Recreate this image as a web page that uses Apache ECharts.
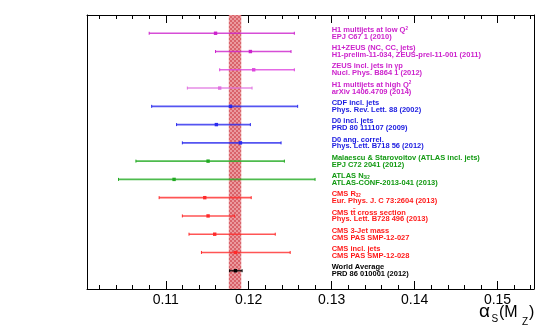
<!DOCTYPE html>
<html>
<head>
<meta charset="utf-8">
<script src="https://cdn.jsdelivr.net/npm/echarts@6/dist/echarts.min.js"></script>
<style>
  html, body { margin: 0; padding: 0; background: #fff; }
  #chart { width: 545px; height: 333px; }
</style>
</head>
<body>
<div id="chart"></div>
<script>
// measurements, top to bottom ({sub|..} / {sup|..} are rich text pieces)
const titleLines = [
  "H1 multijets at low Q{sup|2}",
  "H1+ZEUS (NC, CC, jets)",
  "ZEUS incl. jets in {g|γ}p",
  "H1 multijets at high Q{sup|2}",
  "CDF incl. jets",
  "D0 incl. jets",
  "D0 ang. correl.",
  "Malaescu & Starovoitov (ATLAS incl. jets)",
  "ATLAS N{sub|3/2}",
  "CMS R{sub|32}",
  "CMS tt̄ cross section",
  "CMS 3-Jet mass",
  "CMS incl. jets",
  "World Average"
];
const refLines = [
  "EPJ C67 1 (2010)",
  "H1-prelim-11-034, ZEUS-prel-11-001 (2011)",
  "Nucl. Phys. B864 1 (2012)",
  "arXiv 1406.4709 (2014)",
  "Phys. Rev. Lett. 88 (2002)",
  "PRD 80 111107 (2009)",
  "Phys. Lett. B718 56 (2012)",
  "EPJ C72 2041 (2012)",
  "ATLAS-CONF-2013-041 (2013)",
  "Eur. Phys. J. C 73:2604 (2013)",
  "Phys. Lett. B728 496 (2013)",
  "CMS PAS SMP-12-027",
  "CMS PAS SMP-12-028",
  "PRD 86 010001 (2012)"
];
const centralValues = [0.1160, 0.1202, 0.1206, 0.1165, 0.1178, 0.1161, 0.1190, 0.1151, 0.1110, 0.1147, 0.1151, 0.1159, 0.1184, 0.1184];
const lowerValues   = [0.1080, 0.1160, 0.1165, 0.1126, 0.1083, 0.1113, 0.1120, 0.1064, 0.1043, 0.1092, 0.1120, 0.1128, 0.1143, 0.1177];
const upperValues   = [0.1255, 0.1251, 0.1255, 0.1204, 0.1259, 0.1202, 0.1239, 0.1243, 0.1280, 0.1203, 0.1183, 0.1232, 0.1250, 0.1192];
const rowGroups = ["ep", "ep", "ep2", "ep3", "tev", "tev", "tev", "atlas", "atlas", "cms", "cms", "cms", "cms", "avg"];

const worldBand = [0.1176, 0.1191];
const majorTicks = [0.11, 0.12, 0.13, 0.14, 0.15];
const minorTicks = [0.102, 0.104, 0.106, 0.108, 0.112, 0.114, 0.116, 0.118, 0.122, 0.124, 0.126, 0.128,
  0.132, 0.134, 0.136, 0.138, 0.142, 0.144, 0.146, 0.148, 0.152, 0.154];

const xMin = 0.1005;
const xMax = 0.1544;
const labelX = 0.13;

const lineColors = {
  ep: "#cc22cc", ep2: "#dd44dd", ep3: "#e070e0",
  tev: "#2a2aee", atlas: "#22aa22", cms: "#ff2a2a", avg: "#000000"
};
const textColors = {
  ep: "#cc22cc", ep2: "#cc22cc", ep3: "#cc22cc",
  tev: "#1a1ae0", atlas: "#119911", cms: "#ff1a1a", avg: "#000000"
};

function rowY(i) {
  return titleLines.length - i;
}

// wrap plain parts of a label so every piece is a rich token
function richText(s) {
  return s.split(/(\{[a-z]+\|[^}]*\})/).filter((p) => p).map((p) =>
    p.startsWith("{") ? p : `{n|${p}}`
  ).join("");
}

function bandPattern() {
  const c = document.createElement("canvas");
  c.width = 4;
  c.height = 4;
  const ctx = c.getContext("2d");
  ctx.fillStyle = "#d9636a";
  ctx.fillRect(0, 0, 4, 4);
  ctx.fillStyle = "#eb9a9e";
  ctx.fillRect(0, 0, 2, 2);
  ctx.fillRect(2, 2, 2, 2);
  return c;
}

const chart = echarts.init(document.getElementById("chart"));

const barData = centralValues.map((c, i) => [c, lowerValues[i], upperValues[i], rowY(i), i]);
const labelData = titleLines.map((t, i) => [labelX, rowY(i), i]);

function xAxisBase(position, ticks, len, showLine, showLabel) {
  return {
    type: "value",
    position,
    min: xMin,
    max: xMax,
    splitLine: { show: false },
    axisLine: { show: showLine, onZero: false, lineStyle: { color: "#000", width: 1 } },
    axisTick: {
      show: true,
      inside: true,
      length: len,
      customValues: ticks,
      lineStyle: { color: "#000", width: 1 }
    },
    axisLabel: showLabel ? {
      show: true,
      customValues: ticks,
      margin: 4,
      color: "#000",
      fontSize: 14,
      fontFamily: "Liberation Sans",
      formatter: (v) => v.toFixed(2)
    } : { show: false }
  };
}

function yAxisBase(position) {
  return {
    type: "value",
    position,
    min: 0,
    max: 15,
    splitLine: { show: false },
    axisLine: { show: true, onZero: false, lineStyle: { color: "#000", width: 1 } },
    axisTick: { show: false },
    axisLabel: { show: false }
  };
}

chart.setOption({
  animation: false,
  grid: { left: 87, right: 11, top: 15, bottom: 44 },
  xAxis: [
    xAxisBase("bottom", majorTicks, 8, true, true),
    xAxisBase("bottom", minorTicks, 4, false, false),
    xAxisBase("top", majorTicks, 8, true, false),
    xAxisBase("top", minorTicks, 4, false, false)
  ],
  yAxis: [yAxisBase("left"), yAxisBase("right")],
  series: [
    {
      type: "custom",
      name: "errors",
      xAxisIndex: 0,
      yAxisIndex: 0,
      z: 5,
      markArea: {
        silent: true,
        itemStyle: { color: { image: bandPattern(), repeat: "repeat" }, opacity: 1 },
        data: [[{ xAxis: worldBand[0] }, { xAxis: worldBand[1] }]]
      },
      renderItem(params, api) {
        const i = api.value(4);
        const color = lineColors[rowGroups[i]];
        const y = api.value(3);
        const pc = api.coord([api.value(0), y]);
        const pl = api.coord([api.value(1), y]);
        const ph = api.coord([api.value(2), y]);
        const cap = 1.5;
        const s = 3.4;
        return {
          type: "group",
          children: [
            {
              type: "line",
              shape: { x1: pl[0], y1: pl[1], x2: ph[0], y2: ph[1] },
              style: { stroke: color, lineWidth: 1.6, opacity: 0.8 }
            },
            {
              type: "line",
              shape: { x1: pl[0], y1: pl[1] - cap, x2: pl[0], y2: pl[1] + cap },
              style: { stroke: color, lineWidth: 1 }
            },
            {
              type: "line",
              shape: { x1: ph[0], y1: ph[1] - cap, x2: ph[0], y2: ph[1] + cap },
              style: { stroke: color, lineWidth: 1 }
            },
            {
              type: "rect",
              shape: { x: pc[0] - s / 2, y: pc[1] - s / 2, width: s, height: s },
              style: { fill: color }
            }
          ]
        };
      },
      data: barData
    },
    {
      type: "custom",
      name: "labels",
      xAxisIndex: 0,
      yAxisIndex: 0,
      z: 6,
      silent: true,
      renderItem(params, api) {
        const i = api.value(2);
        const p = api.coord([api.value(0), api.value(1)]);
        const color = textColors[rowGroups[i]];
        const base = { fontSize: 7.5, fontWeight: "bold", fontFamily: "Liberation Sans", fill: color };
        const rich = {
          n: Object.assign({ lineHeight: 8, verticalAlign: "middle" }, base),
          g: Object.assign({}, base, { fontSize: 6.5, lineHeight: 8, verticalAlign: "middle" }),
          sub: Object.assign({}, base, { fontSize: 4.5, lineHeight: 4, verticalAlign: "bottom" }),
          sup: Object.assign({}, base, { fontSize: 4.5, lineHeight: 4, verticalAlign: "top" })
        };
        return {
          type: "group",
          children: [
            {
              type: "text", x: p[0], y: p[1] - 3.4,
              style: Object.assign({ text: richText(titleLines[i]), rich, align: "left", verticalAlign: "middle" }, base)
            },
            {
              type: "text", x: p[0], y: p[1] + 3.4,
              style: Object.assign({ text: refLines[i], align: "left", verticalAlign: "middle" }, base)
            }
          ]
        };
      },
      data: labelData
    }
  ],
  graphic: [
    {
      type: "group",
      children: [
        { type: "text", x: 479, y: 321, style: { text: "α", fontSize: 19, fontFamily: "Liberation Sans", fill: "#000", verticalAlign: "bottom" } },
        { type: "text", x: 491.5, y: 324, style: { text: "S", fontSize: 10, fontFamily: "Liberation Sans", fill: "#000", verticalAlign: "bottom" } },
        { type: "text", x: 499, y: 321, style: { text: "(M", fontSize: 16, fontFamily: "Liberation Sans", fill: "#000", verticalAlign: "bottom" } },
        { type: "text", x: 522, y: 327, style: { text: "Z", fontSize: 10, fontFamily: "Liberation Sans", fill: "#000", verticalAlign: "bottom" } },
        { type: "text", x: 529, y: 321, style: { text: ")", fontSize: 16, fontFamily: "Liberation Sans", fill: "#000", verticalAlign: "bottom" } }
      ]
    }
  ]
});
</script>
</body>
</html>
